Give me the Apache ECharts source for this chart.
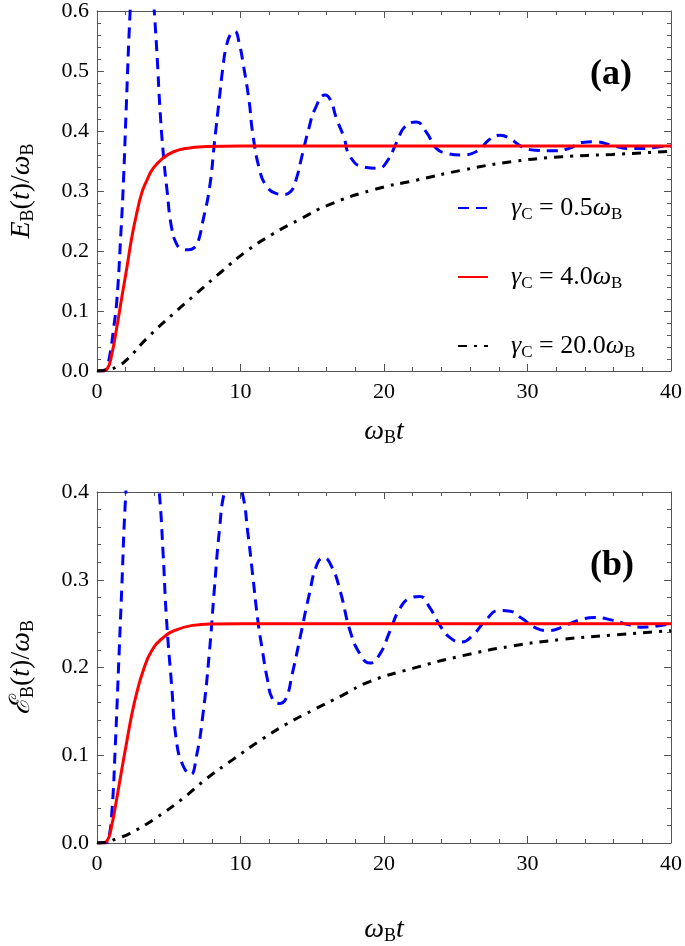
<!DOCTYPE html>
<html><head><meta charset="utf-8">
<script src="https://cdn.jsdelivr.net/npm/echarts@6/dist/echarts.min.js"></script>
<style>html,body{margin:0;padding:0;background:#fff}#c{width:685px;height:946px}</style>
</head><body><div id="c"></div>
<script>
// ---------- data ----------
const xMin = 0, xMax = 40, xStep = 10;
const yMaxA = 0.6, yMaxB = 0.4, yStep = 0.1;

// Panel (a): E_B(t)/omega_B
const tBlueA = [0,0.5,0.7,0.92,1.15,1.38,1.66,1.85,2.03,2.31,2.6,2.9,3.2,3.5,3.75,3.99,4.2,4.38,4.61,4.89,5.19,5.54,5.9,6.4,6.8,7.04,7.38,7.84,8.19,8.53,8.77,9.0,9.34,9.6,9.92,10.2,10.6,10.84,11.3,11.76,12.46,13.03,13.5,13.84,14.3,14.76,15.2,15.9,16.26,16.7,17.2,17.65,18.57,19.6,20.2,20.9,21.45,22.25,22.95,23.65,24.34,25.4,26.6,27.3,28.1,28.8,29.6,30.56,31.7,32.9,33.8,34.7,35.9,37.0,38.2,39.3,40];
const eBlueA = [0,0,0.008,0.03,0.07,0.117,0.228,0.32,0.434,0.6,0.72,0.78,0.79,0.75,0.68,0.6,0.52,0.44,0.365,0.299,0.24,0.212,0.204,0.202,0.206,0.215,0.25,0.305,0.382,0.455,0.505,0.54,0.563,0.566,0.545,0.51,0.45,0.398,0.338,0.31,0.296,0.294,0.299,0.316,0.36,0.404,0.437,0.46,0.452,0.42,0.39,0.357,0.34,0.338,0.349,0.382,0.407,0.415,0.398,0.371,0.363,0.36,0.368,0.385,0.393,0.387,0.374,0.368,0.367,0.371,0.381,0.382,0.376,0.371,0.371,0.374,0.375];
const tRedA = [0,0.35,0.7,1.04,1.38,1.73,2.08,2.42,2.77,3.11,3.46,3.92,4.61,5.3,6.2,7.6,10,20,30,40];
const eRedA = [0,0,0.003,0.029,0.073,0.123,0.172,0.222,0.263,0.296,0.317,0.338,0.355,0.365,0.371,0.374,0.375,0.375,0.375,0.375];
const tBlackA = [0,0.7,1.38,2.08,3.46,5.3,6.92,8.65,10.38,12.23,14.07,16.15,19.26,22.25,25.5,28.95,32.4,35.9,40];
const eBlackA = [0,0.002,0.007,0.019,0.054,0.095,0.129,0.165,0.199,0.228,0.252,0.277,0.302,0.318,0.335,0.349,0.357,0.361,0.366];

// Panel (b): ergotropy / omega_B
const tBlueB = [0,0.6,0.8,1.04,1.27,1.5,1.73,1.96,2.3,2.7,3.1,3.5,3.9,4.34,4.61,4.84,5.19,5.54,6.0,6.53,6.92,7.38,7.84,8.19,8.54,8.88,9.5,10.15,10.5,10.84,11.19,11.53,11.88,12.23,12.69,13.15,13.61,14.19,14.76,15.34,15.8,16.38,16.95,17.65,18.34,19.0,19.7,20.4,21.1,21.8,22.5,23.2,23.9,24.6,25.4,26.2,27.1,28.0,28.8,29.6,30.6,31.5,32.4,33.6,34.7,35.9,37.0,37.9,38.9,40];
const eBlueB = [0,0,0.004,0.036,0.109,0.2,0.292,0.384,0.47,0.53,0.55,0.53,0.47,0.4,0.329,0.256,0.182,0.116,0.088,0.078,0.098,0.146,0.219,0.292,0.358,0.4,0.43,0.397,0.355,0.307,0.256,0.219,0.186,0.164,0.159,0.164,0.193,0.237,0.281,0.318,0.325,0.314,0.287,0.241,0.215,0.205,0.215,0.241,0.267,0.279,0.281,0.268,0.248,0.234,0.229,0.237,0.254,0.265,0.264,0.256,0.245,0.242,0.246,0.254,0.257,0.254,0.249,0.246,0.247,0.25];
const tRedB = [0,0.35,0.69,1.04,1.38,1.73,2.08,2.42,2.77,3.23,3.81,4.61,5.54,6.69,8.07,10,20,30,40];
const eRedB = [0,0,0.002,0.021,0.051,0.084,0.116,0.146,0.171,0.197,0.219,0.234,0.243,0.248,0.2497,0.25,0.25,0.25,0.25];
const tBlackB = [0,0.7,1.38,2.31,4.15,6.0,7.61,9.46,11.3,13.15,15.0,17.07,19.0,22.0,25.5,28.95,32.4,35.9,40];
const eBlackB = [0,0.001,0.005,0.011,0.029,0.051,0.073,0.095,0.116,0.135,0.151,0.168,0.184,0.199,0.2135,0.2245,0.232,0.237,0.242];

const seriesNames = ['0.5', '4.0', '20.0'];
const panelLabels = ['(a)', '(b)'];

// ---------- chart ----------
const SERIF = "'Liberation Serif','DejaVu Serif',serif";
const AX = '#555';
const pairs = (t, v) => t.map((x, i) => [x, v[i]]);

const richBase = (fs, sub, lh, gap) => ({
  i: {fontFamily: SERIF, fontStyle: 'italic', fontSize: fs, color: '#000', lineHeight: lh},
  n: {fontFamily: SERIF, fontSize: fs, color: '#000', lineHeight: lh},
  s: {fontFamily: SERIF, fontSize: sub, color: '#000', verticalAlign: 'bottom', padding: [0, 0, 2, 0]},
  g: {width: gap || 0}
});

function xAxes(gi, nameGap) {
  const common = {
    gridIndex: gi, type: 'value', min: xMin, max: xMax, interval: xStep,
    axisLine: {show: true, onZero: false, lineStyle: {color: AX, width: 1}},
    axisTick: {show: true, inside: true, length: 7, lineStyle: {color: AX}},
    minorTick: {show: true, splitNumber: 5, length: 4, lineStyle: {color: AX}},
    splitLine: {show: false}, minorSplitLine: {show: false}
  };
  return [
    Object.assign({}, common, {
      position: 'bottom',
      axisLabel: {fontFamily: SERIF, fontSize: 22, color: '#000', margin: 10},
      name: '{i|ω}{s|B}{i|t}', nameLocation: 'middle', nameGap: nameGap,
      nameTextStyle: {rich: richBase(28, 18, 34)}
    }),
    Object.assign({}, common, {position: 'top', axisLabel: {show: false}})
  ];
}
function yAxes(gi, ymax, name) {
  const common = {
    gridIndex: gi, type: 'value', min: 0, max: ymax, interval: yStep,
    axisLine: {show: true, onZero: false, lineStyle: {color: AX, width: 1}},
    axisTick: {show: true, inside: true, length: 7, lineStyle: {color: AX}},
    minorTick: {show: true, splitNumber: 5, length: 4, lineStyle: {color: AX}},
    splitLine: {show: false}, minorSplitLine: {show: false}
  };
  return [
    Object.assign({}, common, {
      position: 'left',
      axisLabel: {fontFamily: SERIF, fontSize: 22, color: '#000', margin: 8, formatter: v => v.toFixed(1)},
      name: name, nameLocation: 'middle', nameGap: 58, nameRotate: 90,
      nameTextStyle: {rich: richBase(28, 18, 34)}
    }),
    Object.assign({}, common, {position: 'right', axisLabel: {show: false}})
  ];
}

const xa = xAxes(0, 44), xb = xAxes(1, 70);
const ya = yAxes(0, yMaxA, '{i|E}{s|B}{n|(}{i|t}{n|)/}{i|ω}{s|B}');
const yb = yAxes(1, yMaxB, '{i|ℰ}{s|B}{n|(}{i|t}{n|)/}{i|ω}{s|B}');

const blueStyle = {color: '#0000ff', width: 3, type: [11, 7]};
const redStyle = {color: '#ff0000', width: 3, type: 'solid'};
const blackStyle = {color: '#000000', width: 3, type: [9, 7, 3, 7]};

function mk(name, t, v, style, xi, yi) {
  return {
    name: name, type: 'line', xAxisIndex: xi, yAxisIndex: yi,
    data: pairs(t, v), symbol: 'none', showSymbol: false, smooth: 0.5,
    lineStyle: style, itemStyle: {color: style.color}, clip: true, animation: false
  };
}

const option = {
  animation: false,
  backgroundColor: '#fff',
  grid: [
    {left: 95, right: 12, top: 8, height: 363},
    {left: 95, right: 12, top: 492, height: 364}
  ],
  xAxis: [xa[0], xa[1], xb[0], xb[1]],
  yAxis: [ya[0], ya[1], yb[0], yb[1]],
  title: [
    {text: panelLabels[0], left: 585, top: 52, textStyle: {fontFamily: SERIF, fontWeight: 'bold', fontSize: 36, color: '#000'}},
    {text: panelLabels[1], left: 585, top: 543, textStyle: {fontFamily: SERIF, fontWeight: 'bold', fontSize: 36, color: '#000'}}
  ],
  legend: {
    orient: 'vertical', left: 452, top: 190, itemWidth: 30, itemHeight: 14, itemGap: 41,
    data: seriesNames,
    itemStyle: {opacity: 0, borderWidth: 0},
    formatter: n => '{g|}{i|γ}{s|C}{n| = ' + n + '}{i|ω}{s|B}',
    textStyle: {rich: richBase(26, 17, 34, 18)},
    selectedMode: false
  },
  series: [
    mk(seriesNames[0], tBlueA, eBlueA, blueStyle, 0, 0),
    mk(seriesNames[1], tRedA, eRedA, redStyle, 0, 0),
    mk(seriesNames[2], tBlackA, eBlackA, blackStyle, 0, 0),
    mk(seriesNames[0], tBlueB, eBlueB, blueStyle, 2, 2),
    mk(seriesNames[1], tRedB, eRedB, redStyle, 2, 2),
    mk(seriesNames[2], tBlackB, eBlackB, blackStyle, 2, 2)
  ]
};
const chart = echarts.init(document.getElementById('c'), null, {renderer: 'canvas'});
chart.setOption(option);
</script></body></html>
